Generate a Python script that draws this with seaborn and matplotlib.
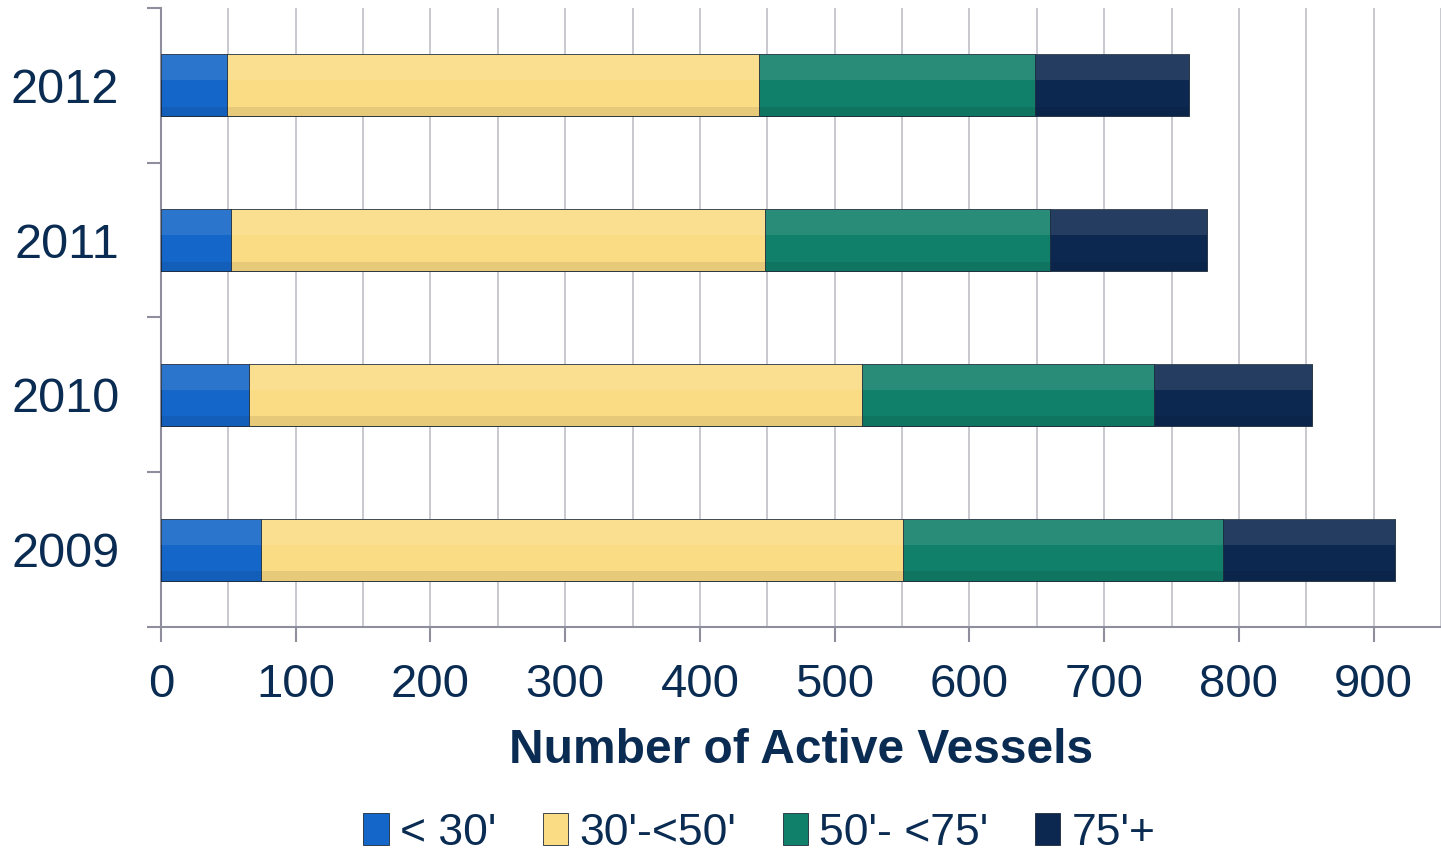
import matplotlib
matplotlib.use("Agg")
import matplotlib.pyplot as plt
from matplotlib.ticker import MultipleLocator, FixedLocator
from matplotlib.patches import Patch, Rectangle
import seaborn as sns
import pandas as pd
import numpy as np

years = ["2012", "2011", "2010", "2009"]
series = ["< 30'", "30'-<50'", "50'- <75'", "75'+"]
under30 = [49, 52, 65, 74]
s30_50 = [395, 396, 455, 477]
s50_75 = [205, 212, 217, 237]
over75 = [114, 116, 117, 128]
colors = ["#1466c8", "#fadc84", "#11806a", "#0c2850"]
text_color = "#0b2c52"

sns.set_theme(style="white")
plt.rcParams["font.family"] = ["Liberation Sans", "DejaVu Sans"]

vals = np.array([under30, s30_50, s50_75, over75], dtype=float)
cum = np.cumsum(vals, axis=0)

fig = plt.figure(figsize=(14.41, 8.6), dpi=100)
ax = fig.add_axes([0.1117, 0.271, 0.8883, 0.7197])

for i in range(len(series) - 1, -1, -1):
    df = pd.DataFrame({"year": years, "value": cum[i]})
    n0 = len(ax.patches)
    sns.barplot(data=df, x="value", y="year", order=years, orient="h",
                color=colors[i], width=0.4, ax=ax, saturation=1,
                edgecolor="#1e2a3a", linewidth=0.6)
    z = 10 - 2 * i
    for p in list(ax.patches[n0:]):
        p.set_zorder(z)
        x, y = p.get_x(), p.get_y()
        w, h = p.get_width(), p.get_height()
        ax.add_patch(Rectangle((x, y), w, h * 0.42, facecolor="white",
                               alpha=0.10, linewidth=0, zorder=z + 1))
        ax.add_patch(Rectangle((x, y + h * 0.85), w, h * 0.15, facecolor="black",
                               alpha=0.08, linewidth=0, zorder=z + 1))

ax.set_xlim(0, 950)
ax.set_ylim(3.5, -0.5)
ax.xaxis.set_major_locator(MultipleLocator(100))
ax.xaxis.set_minor_locator(MultipleLocator(50))
ax.grid(axis="x", which="both", color="#c4c4cc", linewidth=1.3, zorder=0)
ax.grid(axis="y", visible=False)
ax.set_axisbelow(True)
ax.yaxis.set_minor_locator(FixedLocator([-0.5, 0.5, 1.5, 2.5, 3.5]))

for s in ["top", "right"]:
    ax.spines[s].set_visible(False)
for s in ["left", "bottom"]:
    ax.spines[s].set_color("#8e8e9c")
    ax.spines[s].set_linewidth(1.5)

ax.tick_params(axis="x", which="major", length=11, width=1.5, color="#8e8e9c",
               labelsize=34, labelcolor=text_color, pad=15, bottom=True)
ax.tick_params(axis="x", which="minor", length=0)
ax.tick_params(axis="y", which="major", length=0, labelsize=35,
               labelcolor=text_color, pad=30)
ax.tick_params(axis="y", which="minor", length=10, width=1.5, color="#8e8e9c", left=True)

ax.set_ylabel("")
ax.set_xlabel("Number of Active Vessels", fontsize=34.5, fontweight="bold",
              color=text_color, labelpad=15)

handles = [Patch(facecolor=c, edgecolor="#1e2a3a", linewidth=0.6) for c in colors]
leg = fig.legend(handles, series, loc="center", bbox_to_anchor=(0.527, 0.031),
                 ncol=4, frameon=False, handlelength=0.57, handleheight=0.72,
                 handletextpad=0.25, columnspacing=1.05, borderpad=0.1,
                 prop={"size": 32})
for t in leg.get_texts():
    t.set_color(text_color)

fig.savefig("out.png", dpi=100)
